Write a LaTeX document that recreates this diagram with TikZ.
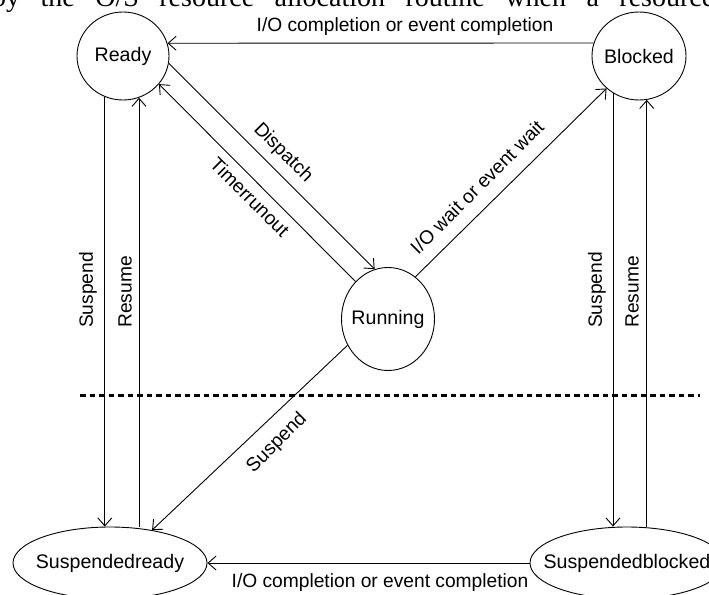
\documentclass[tikz,border=0pt]{standalone}
\usepackage{fontspec}
\setmainfont{Liberation Sans}
\newfontfamily\serifdoc{Liberation Serif}
\usetikzlibrary{shapes.geometric,arrows.meta}
\begin{document}
\begin{tikzpicture}[x=1pt,y=-1pt,
  state/.style={draw, ellipse, line width=0.9pt, inner sep=0pt, font=\fontsize{19.6}{21}\selectfont},
  conn/.style={line width=0.9pt, -{Straight Barb[length=8pt,width=14pt]}},
  lbl/.style={font=\fontsize{19.2}{21}\selectfont, inner sep=0pt},
  sep/.style={line width=3pt, dash pattern=on 5.5pt off 4pt},
]
\useasboundingbox (0,0) rectangle (709,594);
\clip (0,0) rectangle (709,594);

% cropped text line at the top
\node[anchor=base west, inner sep=0pt, font=\serifdoc\fontsize{28}{28}\selectfont] (hdr) at (-8,7)
  {\makebox[722pt][s]{by the O/S resource allocation routine when a resource}};

% states
\node[state, minimum width=92pt, minimum height=88pt] (ready) at (123,56) {\makebox[0pt]{Ready}};
\node[state, minimum width=94pt, minimum height=88pt] (blocked) at (639,56) {\makebox[0pt]{Blocked}};
\node[state, minimum width=93pt, minimum height=103pt] (running) at (388,319) {\makebox[0pt]{Running}};
\node[state, minimum width=194pt, minimum height=72pt] (susready) at (110,563) {\makebox[0pt]{Suspendedready}};
\node[state, minimum width=194pt, minimum height=72pt] (susblocked) at (627,563) {\makebox[0pt]{Suspendedblocked}};

% connectors
\draw[conn] (blocked.164) -- (ready.16);
\draw[conn] (ready.-9) -- (running.105);
\draw[conn] (running.131) -- (ready.-38);
\draw[conn] (running.57) -- (blocked.225);
\draw[conn] (running.213) -- (susready.38);
\draw[conn] (ready.246) -- (ready.246 |- susready.north);
\draw[conn] (ready.291 |- susready.north) -- (ready.291);
\draw[conn] (blocked.235) -- (blocked.235 |- susblocked.north);
\draw[conn] (blocked.280 |- susblocked.north) -- (blocked.280);
\draw[conn] (susblocked.west) -- (susready.east);

% separator
\coordinate (sepL) at (80,395);
\coordinate (sepR) at (700,395);
\draw[sep] (sepL) -- (sepR);

% labels
\node[lbl] (ltop) at (405,27) {I/O completion or event completion};
\node[lbl] (lbot) at (380,583) {I/O completion or event completion};
\node[lbl, rotate=-45] (ldisp) at (283,153) {Dispatch};
\node[lbl, rotate=-45] (ltimer) at (250,197) {Timerrunout};
\node[lbl, rotate=45] (lwait) at (477,187) {I/O wait or event wait};
\node[lbl, rotate=45] (lsusp) at (277,443) {Suspend};
\node[lbl, rotate=90] (lsl) at (88,290) {Suspend};
\node[lbl, rotate=90] (lrl) at (125,292) {Resume};
\node[lbl, rotate=90] (lsr) at (597,290) {Suspend};
\node[lbl, rotate=90] (lrr) at (632,292) {Resume};
\end{tikzpicture}
\end{document}
